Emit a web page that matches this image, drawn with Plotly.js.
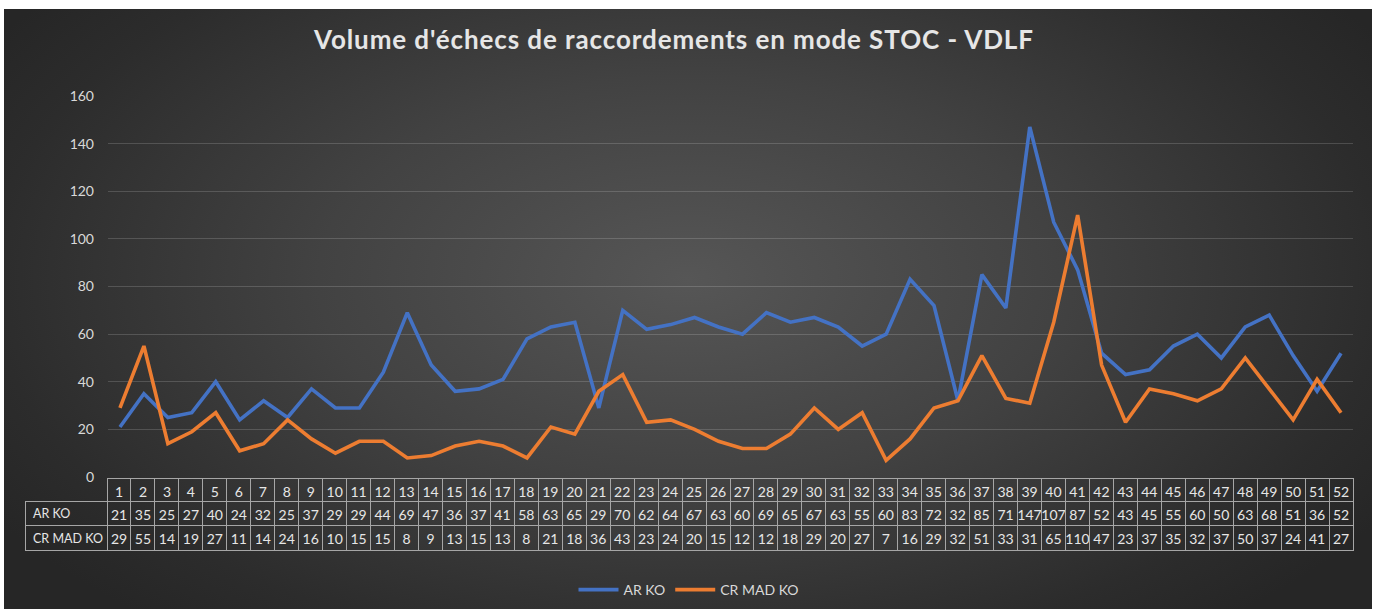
<!DOCTYPE html>
<html>
<head>
<meta charset="utf-8">
<script src="https://cdn.plot.ly/plotly-3.0.1.min.js"></script>
<style>
  html, body { margin: 0; padding: 0; background: #ffffff; }
  #wrap { position: relative; width: 1374px; height: 609px; }
  #bg { position: absolute; left: 4px; top: 9px; right: 2px; bottom: 0;
        background: radial-gradient(ellipse 60% 75% at 50% 45%, #565656 0%, #424242 45%, #2c2c2c 85%, #262626 100%); }
  #chart { position: absolute; left: 0; top: 0; width: 1374px; height: 609px; }
  #chart .gtitle { letter-spacing: 0.9px; }
</style>
</head>
<body>
<div id="wrap"><div id="bg"></div><div id="chart"></div></div>
<script>
const categories = ['1','2','3','4','5','6','7','8','9','10','11','12','13','14','15','16','17','18','19','20','21','22','23','24','25','26','27','28','29','30','31','32','33','34','35','36','37','38','39','40','41','42','43','44','45','46','47','48','49','50','51','52'];
const arKo = [21,35,25,27,40,24,32,25,37,29,29,44,69,47,36,37,41,58,63,65,29,70,62,64,67,63,60,69,65,67,63,55,60,83,72,32,85,71,147,107,87,52,43,45,55,60,50,63,68,51,36,52];
const crMadKo = [29,55,14,19,27,11,14,24,16,10,15,15,8,9,13,15,13,8,21,18,36,43,23,24,20,15,12,12,18,29,20,27,7,16,29,32,51,33,31,65,110,47,23,37,35,32,37,50,37,24,41,27];
const seriesNames = ['AR KO', 'CR MAD KO'];
const yTicks = [0,20,40,60,80,100,120,140,160];

const FONT = 'Lato, "Open Sans", sans-serif';
const TXT = '#d9d9d9';
const TTXT = '#e6e6e6';
const BLUE = '#4472C4';
const ORANGE = '#ED7D31';
const GRID = 'rgba(255,255,255,0.16)';
const TLINE = '#a6a6a6';

const n = categories.length;
const headerVals = [''].concat(categories);
const rowLabels = seriesNames.map(s => s.replace(/ /g, '\u00a0'));
const cellVals = [rowLabels].concat(categories.map((c, i) => [arKo[i], crMadKo[i]]));
const lineColsHeader = ['rgba(0,0,0,0)'].concat(categories.map(() => TLINE));
const aligns = ['left'].concat(categories.map(() => 'center'));
const colWidths = [82].concat(categories.map(() => 23.95));
const cellSizes = [12.5].concat(categories.map(() => 14));

const W = 1374, H = 609;
const ml = 25, mr = 21, mt = 96, mb = 0;
const pw = W - ml - mr, ph = H - mt - mb;
const xStart = (108 - ml) / pw;
const yAxisBottom = (H - 477) / ph;
const tableTop = (H - 478) / ph;
const tableBottom = (H - 551) / ph;

const traces = [
  { type: 'scatter', mode: 'lines', name: seriesNames[0], x: categories, y: arKo,
    line: { color: BLUE, width: 3.6 }, xaxis: 'x', yaxis: 'y' },
  { type: 'scatter', mode: 'lines', name: seriesNames[1], x: categories, y: crMadKo,
    line: { color: ORANGE, width: 3.6 }, xaxis: 'x', yaxis: 'y' },
  { type: 'table', domain: { x: [0, 1], y: [tableBottom, tableTop] },
    columnwidth: colWidths,
    header: { values: headerVals, height: 23, align: aligns,
      fill: { color: 'rgba(0,0,0,0)' },
      line: { color: lineColsHeader, width: 1 },
      font: { family: FONT, size: 14, color: TTXT } },
    cells: { values: cellVals, height: 24.5, align: aligns,
      fill: { color: 'rgba(0,0,0,0)' },
      line: { color: TLINE, width: 1 },
      font: { family: FONT, size: cellSizes, color: TTXT } },
    showlegend: false }
];

const layout = {
  width: W, height: H,
  margin: { l: ml, r: mr, t: mt, b: mb },
  paper_bgcolor: 'rgba(0,0,0,0)',
  plot_bgcolor: 'rgba(0,0,0,0)',
  font: { family: FONT, color: TXT },
  title: { text: "Volume d'échecs de raccordements en mode STOC - VDLF",
    font: { family: FONT, size: 26, color: '#e6e6e6', weight: 'bold' },
    x: 0.4905, xanchor: 'center', xref: 'container',
    y: 1 - 40 / H, yanchor: 'middle', yref: 'container' },
  xaxis: { domain: [xStart, 1], type: 'category', range: [-0.5, n - 0.5],
    showticklabels: false, showgrid: false, zeroline: false, showline: false, ticks: '' },
  yaxis: { domain: [yAxisBottom, 1], range: [0, 160], tickvals: yTicks,
    showgrid: true, gridcolor: GRID, gridwidth: 1, zeroline: false, showline: false,
    ticks: '', ticklabelstandoff: 13,
    tickfont: { family: FONT, size: 14, color: TXT } },
  showlegend: true,
  legend: { orientation: 'h', x: 0.5, xanchor: 'center', xref: 'paper',
    y: (H - 590) / ph, yanchor: 'middle',
    font: { family: FONT, size: 14, color: TXT },
    bgcolor: 'rgba(0,0,0,0)', itemwidth: 40, traceorder: 'normal' }
};

Plotly.newPlot('chart', traces, layout, { displayModeBar: false, staticPlot: true });
</script>
</body>
</html>
